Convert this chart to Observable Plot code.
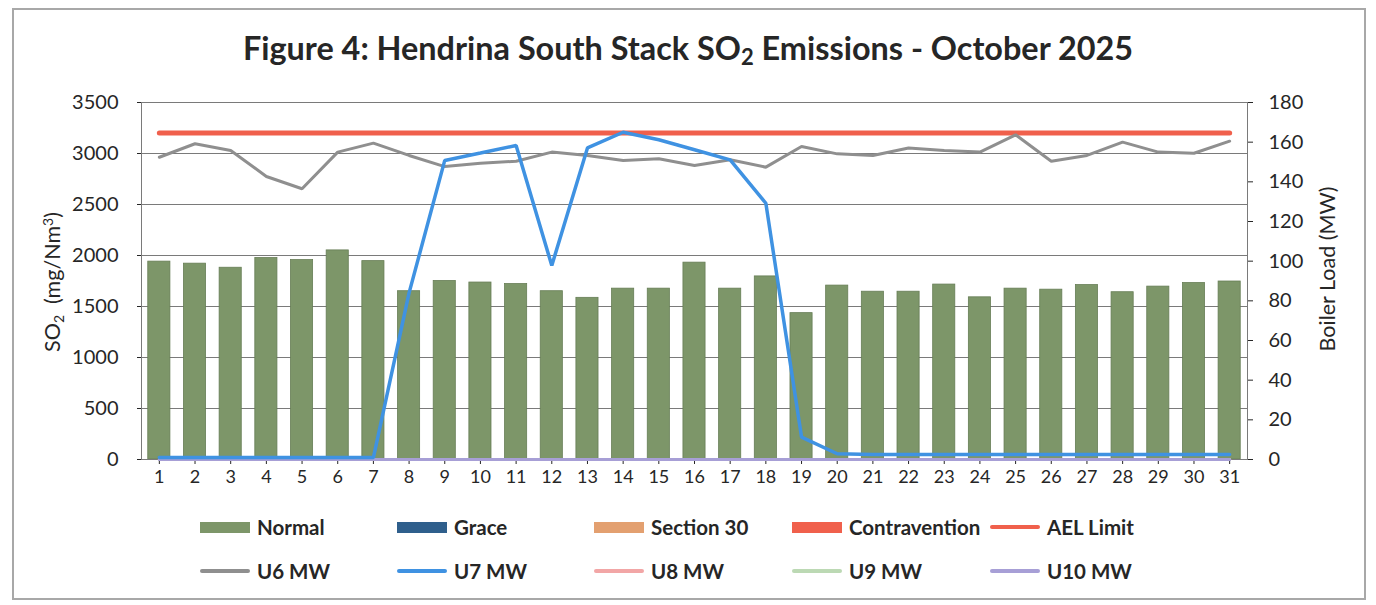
<!DOCTYPE html>
<html><head><meta charset="utf-8">
<script src="https://cdn.jsdelivr.net/npm/d3@7"></script>
<script src="https://cdn.jsdelivr.net/npm/@observablehq/plot@0.6"></script>
<style>
body{margin:0;background:#fff;font-family:Lato,"Open Sans",sans-serif;}
#wrap{position:relative;width:1376px;height:605px;overflow:hidden;background:#fff;}
#frame{position:absolute;left:12px;top:8px;width:1354px;height:592px;border:2px solid #a8a8a8;box-sizing:border-box;}
#title{position:absolute;left:0;top:30px;width:1376px;line-height:36px;text-align:center;font-weight:700;font-size:32.4px;color:#262626;}
#title sub{font-size:22px;vertical-align:-5px;line-height:0;}
#chart{position:absolute;left:0;top:85px;}
.ylab{position:absolute;font-size:21.5px;color:#262626;white-space:nowrap;transform:translate(-50%,-50%) rotate(-90deg);}
.ylab sub{font-size:14px;vertical-align:-4px;line-height:0;}
.ylab sup{font-size:14px;vertical-align:7px;line-height:0;}
.leg{position:absolute;display:flex;align-items:center;font-weight:700;font-size:20.5px;color:#262626;transform:translateY(-50%);}
.sw{width:50px;margin-right:7px;}
</style></head>
<body>
<div id="wrap">
  <div id="frame"></div>
  <div id="title">Figure 4: Hendrina South Stack SO<sub>2</sub> Emissions - October 2025</div>
  <div id="chart"></div>
  <div class="ylab" style="left:52px;top:282px;">SO<sub>2</sub>&nbsp; (mg/Nm<sup>3</sup>)</div>
  <div class="ylab" style="left:1327px;top:269px;">Boiler Load (MW)</div>
  <div id="legend"></div>
</div>
<script>
// ---- data ----
const days = [1,2,3,4,5,6,7,8,9,10,11,12,13,14,15,16,17,18,19,20,21,22,23,24,25,26,27,28,29,30,31];
const so2Normal = [1940,1920,1880,1975,1955,2050,1945,1650,1750,1735,1720,1650,1585,1675,1675,1930,1675,1795,1435,1705,1645,1645,1715,1590,1675,1665,1710,1640,1695,1730,1745];
const aelLimit = 3200;
const u6MW = [152.4,159.2,155.8,142.7,136.5,155,159.5,153.3,147.7,149.4,150.4,155,153.3,150.8,151.6,148.2,151.1,147.4,157.8,154.1,153.3,157.1,155.8,155,163.7,150.4,153.3,160,155,154.4,160.5];
const u7MW = [1,1,1,1,1,1,1,84,150.8,154.5,158.3,97.8,157.1,165,161.2,156.2,151.1,129.2,11.3,2.9,2.5,2.5,2.5,2.5,2.5,2.5,2.5,2.5,2.5,2.5,2.5];
const u8MW = [0,0,0,0,0,0,0,0,0,0,0,0,0,0,0,0,0,0,0,0,0,0,0,0,0,0,0,0,0,0,0];
const u9MW = [0,0,0,0,0,0,0,0,0,0,0,0,0,0,0,0,0,0,0,0,0,0,0,0,0,0,0,0,0,0,0];
const u10MW = [0,0,0,0,0,0,0,0,0,0,0,0,0,0,0,0,0,0,0,0,0,0,0,0,0,0,0,0,0,0,0];
const leftTicks = [0,500,1000,1500,2000,2500,3000,3500];
const rightTicks = [0,20,40,60,80,100,120,140,160,180];
const legendNames = ["Normal","Grace","Section 30","Contravention","AEL Limit","U6 MW","U7 MW","U8 MW","U9 MW","U10 MW"];
const legendColors = ["#7d9669","#2f5f8c","#e3a070","#f0604c","#f0604c","#8f8f8f","#3f92e2","#f2a6a6","#bcd9b4","#a79fd6"];
const legendKinds = ["rect","rect","rect","rect","line","line","line","line","line","line"];

// ---- chart ----
const k = 3500 / 180; // MW -> primary axis units
const so2Table = days.map((d, i) => ({day: d, so2: so2Normal[i]}));
const aelTable = days.map(d => ({day: d, v: aelLimit}));
const mk = arr => days.map((d, i) => ({day: d, mw: arr[i]}));
const mwLine = (arr, color, w) => Plot.line(mk(arr), {x: "day", y: d => d.mw * k, stroke: color, strokeWidth: w, strokeLinejoin: "miter"});

const chart = Plot.plot({
  width: 1376, height: 405,
  marginTop: 17, marginBottom: 31, marginLeft: 141, marginRight: 129,
  style: {fontFamily: "Lato, 'Open Sans', sans-serif", fontSize: "16px", color: "#262626", background: "transparent"},
  x: {type: "band", domain: days, paddingInner: 0.38, paddingOuter: 0.19, round: false, label: null},
  y: {domain: [0, 3500], label: null},
  marks: [
    Plot.gridY(leftTicks, {stroke: "#7a7a7a", strokeOpacity: 1, strokeWidth: 1}),
    Plot.barY(so2Table, {x: "day", y: "so2", fill: "#7d9669", stroke: "#667d55", strokeWidth: 0.8}),
    Plot.frame({stroke: "#7a7a7a"}),
    Plot.axisY(leftTicks, {anchor: "left", tickSize: 4, tickPadding: 19, tickFormat: d => String(d), label: null, fontSize: 20}),
    Plot.axisY(rightTicks.map(v => v * k), {anchor: "right", tickSize: 5, tickPadding: 16, tickFormat: d => String(Math.round(d / k)), label: null, fontSize: 20}),
    Plot.axisX({tickSize: 5, tickPadding: 6, label: null, fontSize: 18}),
    Plot.line(aelTable, {x: "day", y: "v", stroke: "#f0604c", strokeWidth: 5}),
    mwLine(u6MW, "#8f8f8f", 3),
    mwLine(u8MW, "#f2a6a6", 3),
    mwLine(u9MW, "#bcd9b4", 3),
    mwLine(u10MW, "#a79fd6", 3),
    mwLine(u7MW, "#3f92e2", 3.5)
  ]
});
document.getElementById("chart").appendChild(chart);

// ---- legend ----
const colX = [200, 397, 594, 792, 990];
const rowY = [527, 571];
const leg = document.getElementById("legend");
legendNames.forEach((name, i) => {
  const el = document.createElement("div");
  el.className = "leg";
  el.style.left = colX[i % 5] + "px";
  el.style.top = rowY[Math.floor(i / 5)] + "px";
  const sw = document.createElement("div");
  sw.className = "sw";
  sw.style.background = legendColors[i];
  sw.style.height = legendKinds[i] === "rect" ? "11px" : "4px";
  if (legendKinds[i] === "line") sw.style.borderRadius = "2px";
  el.appendChild(sw);
  const t = document.createElement("span");
  t.textContent = name;
  el.appendChild(t);
  leg.appendChild(el);
});
</script>
</body></html>
